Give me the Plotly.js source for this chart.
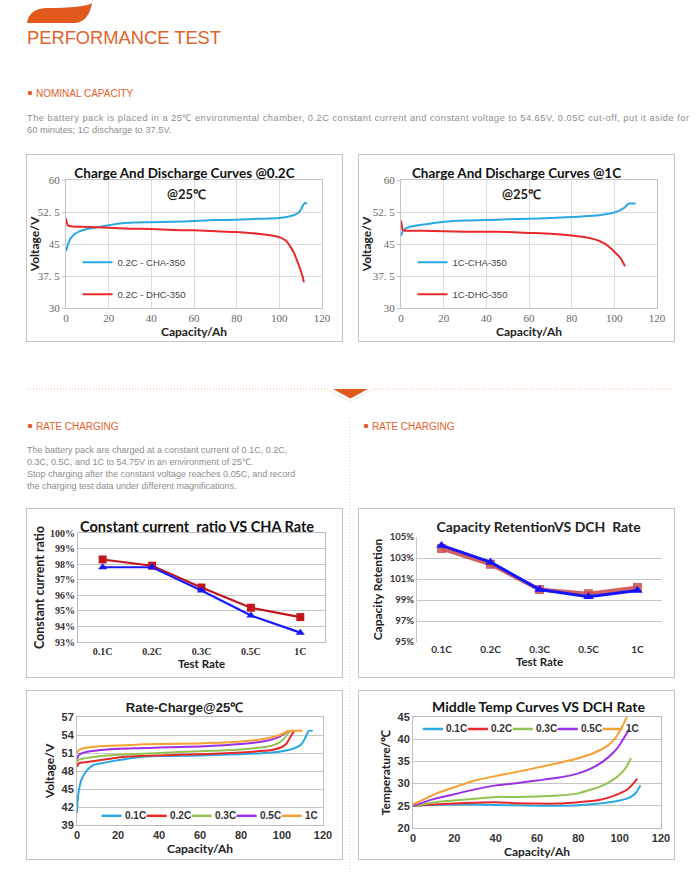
<!DOCTYPE html>
<html>
<head>
<meta charset="utf-8">
<script src="https://cdn.plot.ly/plotly-3.0.1.min.js"></script>
<style>
  html,body{margin:0;padding:0;background:#fff;}
  #page{position:relative;width:700px;height:872px;overflow:hidden;background:#fff;}
  .box{position:absolute;border:1px solid #c4c4c4;box-sizing:border-box;background:#fff;}
  .box > div{position:absolute;left:0;top:0;}
  svg text{font-family:"Liberation Sans",Arial,sans-serif;}
</style>
</head>
<body>
<div id="page">
<svg id="deco" width="700" height="872" style="position:absolute;left:0;top:0;">
  <path d="M27,23 L76,23 Q89,21 92,3 Q84,8 46,8 Q29,9 27,23 Z" fill="#e2591d"/>
  <text x="27" y="43.5" font-size="18" fill="#e0622b" textLength="194" lengthAdjust="spacingAndGlyphs">PERFORMANCE TEST</text>
  <circle cx="30" cy="93" r="2.3" fill="#e0622b"/>
  <text x="36" y="96.5" font-size="10" fill="#e0622b">NOMINAL CAPACITY</text>
  <text x="27" y="120.5" font-size="9.3" fill="#8e8e8e" textLength="662" lengthAdjust="spacing">The battery pack is placed in a 25℃ environmental chamber, 0.2C constant current and constant voltage to 54.65V, 0.05C cut-off, put it aside for</text>
  <text x="27" y="132.5" font-size="9.3" fill="#8e8e8e">60 minutes; 1C discharge to 37.5V.</text>
  <polyline points="27,389 327,389 350,402 373,389 672,389" fill="none" stroke="#efb38e" stroke-width="1" stroke-dasharray="1,2"/>
  <polygon points="333,389 368,389 350.5,398.5" fill="#e2591d"/>
  <line x1="350" y1="418" x2="350" y2="872" stroke="#cfcfcf" stroke-width="1" stroke-dasharray="1,2"/>
  <circle cx="30" cy="426" r="2.3" fill="#e0622b"/>
  <text x="36" y="429.5" font-size="10" fill="#e0622b">RATE CHARGING</text>
  <circle cx="366" cy="426" r="2.3" fill="#e0622b"/>
  <text x="372" y="429.5" font-size="10" fill="#e0622b">RATE CHARGING</text>
  <text x="27" y="453" font-size="9" fill="#8e8e8e">The battery pack are charged at a constant current of 0.1C, 0.2C,</text>
  <text x="27" y="465" font-size="9" fill="#8e8e8e">0.3C, 0.5C, and 1C to 54.75V in an environment of 25℃.</text>
  <text x="27" y="477" font-size="9" fill="#8e8e8e">Stop charging after the constant voltage reaches 0.05C, and record</text>
  <text x="27" y="489" font-size="9" fill="#8e8e8e">the charging test data under different magnifications.</text>
</svg>
<div class="box" style="left:26px;top:154px;width:317px;height:188px;"><div id="c1"></div></div>
<div class="box" style="left:358px;top:154px;width:317px;height:188px;"><div id="c2"></div></div>
<div class="box" style="left:26px;top:508px;width:317px;height:170px;"><div id="c3"></div></div>
<div class="box" style="left:358px;top:508px;width:317px;height:170px;"><div id="c4"></div></div>
<div class="box" style="left:26px;top:690px;width:317px;height:170px;"><div id="c5"></div></div>
<div class="box" style="left:358px;top:690px;width:317px;height:170px;"><div id="c6"></div></div>
</div>
<script>
// ---------- DATA ----------
// Chart 1: Charge and discharge @0.2C
const c1ChaX = [0,1,2,4,6,8,12,16,20,25,30,40,50,60,70,80,90,100,104,107,109,110,111,112,113];
const c1ChaY = [43.3,45,46.2,47.3,47.9,48.3,48.7,49.0,49.4,49.8,50.0,50.1,50.2,50.4,50.6,50.7,50.9,51.1,51.4,51.8,52.3,53.0,54.0,54.6,54.5];
const c1DhcX = [0,0.5,1,3,10,20,30,40,50,60,70,80,90,95,100,103,105,107,108,109,110,111,111.5];
const c1DhcY = [51.0,49.8,49.3,49.1,49.0,48.8,48.6,48.5,48.3,48.2,48.0,47.8,47.4,47.1,46.6,45.8,44.5,42.8,41.5,40.2,38.8,37.2,36.0];
// Chart 2: Charge and discharge @1C
const c2ChaX = [0,0.5,1,2,4,8,14,20,30,40,50,60,70,80,90,95,100,103,105,106,107,108,110];
const c2ChaY = [46.9,47.6,48.1,48.6,49.0,49.4,49.8,50.2,50.5,50.6,50.8,50.9,51.1,51.3,51.6,51.9,52.4,53.0,53.6,54.2,54.5,54.5,54.5];
const c2DhcX = [0,0.3,0.8,2,5,10,20,30,40,50,60,70,80,85,90,93,96,98,100,102,103,104,105];
const c2DhcY = [50.5,49.5,48.3,48.1,48.1,48.1,48.0,47.9,47.9,47.8,47.6,47.4,47.0,46.7,46.2,45.7,44.9,44.1,43.2,42.2,41.6,40.7,39.8];
// Chart 3 & 4: rates
const rates = ['0.1C','0.2C','0.3C','0.5C','1C'];
const ccRatioRed  = [0.983,0.979,0.965,0.952,0.946];
const ccRatioBlue = [0.978,0.978,0.963,0.947,0.936];
const capRetRed   = [1.039,1.024,1.000,0.996,1.002];
const capRetBlue  = [1.042,1.026,1.000,0.993,0.999];
// Chart 5: Rate-Charge@25C
const rcNames = ['0.1C','0.2C','0.3C','0.5C','1C'];
const rc01X = [0,0.3,0.8,1.5,2.5,4,6,8,12,20,30,40,60,80,95,100,103,106,108,110,111,112,113,115];
const rc01Y = [41.0,43.0,44.5,45.8,46.8,47.7,48.5,49.0,49.3,49.8,50.3,50.5,50.6,50.8,51.1,51.3,51.5,51.8,52.1,52.7,53.3,54.0,54.7,54.7];
const rc02X = [0,0.5,1,5,15,25,40,60,80,95,100,102,103,104,105,106];
const rc02Y = [48.7,49.1,49.3,49.5,50.0,50.4,50.6,50.8,51.1,51.5,52.0,52.5,53.0,53.6,54.2,54.6];
const rc03X = [0,0.5,2,10,20,40,60,80,95,99,101,102.5,104];
const rc03Y = [49.5,49.8,50.0,50.4,50.7,51.0,51.3,51.6,52.2,52.8,53.4,54.1,54.7];
const rc05X = [0,0.5,1,5,15,30,40,60,80,92,98,101,103];
const rc05Y = [50.0,50.4,50.7,51.2,51.6,51.8,51.9,52.1,52.5,53.0,53.6,54.2,54.7];
const rc1X  = [0,0.5,1,5,15,30,40,60,80,92,99,102,104,110];
const rc1Y  = [51.0,51.3,51.5,51.9,52.2,52.4,52.5,52.6,52.9,53.4,54.0,54.5,54.7,54.7];
// Chart 6: Middle temp curves vs DCH rate
const mt01X = [0,10,20,30,40,50,60,70,80,90,100,105,108,110];
const mt01Y = [25.0,25.2,25.3,25.3,25.2,25.1,25.0,25.0,25.1,25.5,26.2,26.9,28.0,29.6];
const mt02X = [0,10,20,30,40,50,60,70,80,90,95,100,104,107,108.5];
const mt02Y = [25.0,25.3,25.5,25.7,25.8,25.6,25.5,25.5,25.8,26.3,26.9,27.8,28.8,30.2,31.1];
const mt03X = [0,8,15,30,40,50,60,70,80,85,90,96,100,103,105.5];
const mt03Y = [25.0,25.6,26.0,26.6,27.0,27.0,27.1,27.3,27.8,28.5,29.2,30.6,32.0,33.6,35.7];
const mt05X = [0,10,20,30,40,50,60,70,80,87,92,97,100,103,104.5];
const mt05Y = [25.0,26.5,27.6,28.7,29.6,30.1,30.7,31.3,32.3,33.6,35.0,37.0,38.7,41.0,42.2];
const mt1X  = [0,5,12,22,30,40,50,60,70,80,88,94,98,100,102,103.5];
const mt1Y  = [25.3,26.4,27.9,29.5,30.7,31.7,32.6,33.6,34.6,35.7,37.0,38.5,40.3,41.8,43.6,45.0];

// ---------- STYLE HELPERS ----------
const BLUE='#2aa8e0', RED='#e8282b', GREEN='#92c350', PURPLE='#9b30e6', ORANGE='#f6a033';
const rcColors = [BLUE, RED, GREEN, PURPLE, ORANGE];
const cfg = {staticPlot:true, displayModeBar:false};
const boldSans = '"Lato","Liberation Sans",Arial,sans-serif';

function line(x,y,name,color,w,extra){
  return Object.assign({type:'scatter',mode:'lines',x:x,y:y,name:name,line:{color:color,width:w||2,shape:'spline',smoothing:0.6},hoverinfo:'skip'},extra||{});
}

// compact horizontal legend (shapes + annotations) in plot-paper coords
function compactLegend(names, colors, x0, y, pitch, sw, gap){
  const shapes=[], ann=[];
  names.forEach((n,i)=>{
    const xs = x0 + i*pitch;
    shapes.push({type:'line', xref:'paper', yref:'paper', x0:xs, x1:xs+sw, y0:y, y1:y, line:{color:colors[i], width:2.5}});
    ann.push({text:n, xref:'paper', yref:'paper', x:xs+sw+gap, y:y, xanchor:'left', yanchor:'middle', showarrow:false,
      font:{family:'"Liberation Sans",Arial,sans-serif', size:10, color:'#333', weight:700}});
  });
  return {shapes, ann};
}

// ---------- CHART 1 & 2 ----------
function cdLayout(title, W, H, m){
  return {
    width:W, height:H, margin:m, paper_bgcolor:'#fff', plot_bgcolor:'#fff',
    title:{text:title, font:{family:boldSans, size:13.5, color:'#111', weight:700}, x:0.5, xanchor:'center', y:1-18/H, yanchor:'middle', xref:'container', yref:'container'},
    showlegend:true,
    legend:{x:0.045, y:0.47, xanchor:'left', yanchor:'top', bgcolor:'rgba(0,0,0,0)', font:{family:'"Liberation Sans",Arial,sans-serif', size:9.5, color:'#444'}, traceorder:'grouped', tracegroupgap:13, itemwidth:30},
    xaxis:{range:[0,120], dtick:20, tick0:0, showgrid:true, gridcolor:'#dcdcdc', zeroline:false, showline:true, linecolor:'#c4c4c4', mirror:true, ticks:'', tickfont:{family:'"Liberation Serif","DejaVu Serif",serif', size:11, color:'#666'},
      title:{text:'Capacity/Ah', font:{family:boldSans, size:12, color:'#222', weight:700}, standoff:2}},
    yaxis:{range:[30,60], tickvals:[30,37.5,45,52.5,60], ticktext:['30','37. 5','45','52. 5','60'], showgrid:true, gridcolor:'#dcdcdc', zeroline:false, showline:true, linecolor:'#c4c4c4', mirror:true, ticks:'outside', ticklen:3, tickcolor:'#c4c4c4', tickfont:{family:'"Liberation Serif","DejaVu Serif",serif', size:11, color:'#666'},
      title:{text:'Voltage/V', font:{family:boldSans, size:12, color:'#222', weight:700}, standoff:1}},
    annotations:[{text:'<b>@25℃</b>', xref:'paper', yref:'paper', x:0.47, y:0.89, xanchor:'center', yanchor:'middle', showarrow:false, font:{family:boldSans, size:13, color:'#222'}}]
  };
}
Plotly.newPlot('c1', [
  line(c1ChaX,c1ChaY,'0.2C - CHA-350',BLUE,2,{legendgroup:'a'}),
  line(c1DhcX,c1DhcY,'0.2C - DHC-350',RED,2,{legendgroup:'b'})
], cdLayout('Charge And Discharge Curves @0.2C',315,186,{l:39,r:20,t:25,b:33}), cfg);

Plotly.newPlot('c2', [
  line(c2ChaX,c2ChaY,'1C-CHA-350',BLUE,2,{legendgroup:'a'}),
  line(c2DhcX,c2DhcY,'1C-DHC-350',RED,2,{legendgroup:'b'})
], cdLayout('Charge And Discharge Curves @1C',315,186,{l:42,r:17,t:25,b:33}), cfg);

// ---------- CHART 3 ----------
Plotly.newPlot('c3', [
  {type:'scatter',mode:'lines+markers',x:rates,y:ccRatioRed,name:'red',line:{color:'#c0161c',width:2.2},marker:{symbol:'square',size:8,color:'#c0161c'},hoverinfo:'skip'},
  {type:'scatter',mode:'lines+markers',x:rates,y:ccRatioBlue,name:'blue',line:{color:'#1818ff',width:2.2},marker:{symbol:'triangle-up',size:8,color:'#1818ff'},hoverinfo:'skip'}
], {
  width:315, height:168, margin:{l:51,r:17,t:24,b:35}, showlegend:false, paper_bgcolor:'#fff', plot_bgcolor:'#fff',
  title:{text:'Constant current  ratio VS CHA Rate', font:{family:boldSans, size:14.5, color:'#111', weight:700}, x:0.54, xanchor:'center', y:1-18/168, yanchor:'middle', xref:'container', yref:'container'},
  xaxis:{type:'category', range:[-0.5,4.5], showgrid:false, showline:true, linecolor:'#bdbdbd', mirror:true, ticks:'', tickfont:{family:'"Liberation Serif",serif', size:10, color:'#333', weight:700},
    title:{text:'Test Rate', font:{family:boldSans, size:11.5, color:'#222', weight:700}, standoff:0}},
  yaxis:{range:[0.93,1.0], dtick:0.01, tickformat:'.0%', showgrid:true, gridcolor:'#c6c6c6', gridwidth:1, zeroline:false, showline:true, linecolor:'#bdbdbd', mirror:true, ticks:'', tickfont:{family:'"Liberation Serif",serif', size:10, color:'#333', weight:700},
    title:{text:'Constant current ratio', font:{family:boldSans, size:12.5, color:'#222', weight:700}, standoff:2}}
}, cfg);

// ---------- CHART 4 ----------
Plotly.newPlot('c4', [
  {type:'scatter',mode:'lines+markers',x:rates,y:capRetRed,name:'red',line:{color:'rgba(200,70,70,0.85)',width:4},marker:{symbol:'square',size:9,color:'rgba(200,80,80,0.85)'},hoverinfo:'skip'},
  {type:'scatter',mode:'lines+markers',x:rates,y:capRetBlue,name:'blue',line:{color:'#1414ff',width:3},marker:{symbol:'triangle-up',size:9,color:'#1414ff'},hoverinfo:'skip'}
], {
  width:315, height:168, margin:{l:58,r:12,t:28,b:35}, showlegend:false, paper_bgcolor:'#fff', plot_bgcolor:'#fff',
  title:{text:'Capacity RetentionVS DCH  Rate', font:{family:boldSans, size:14, color:'#222', weight:700}, x:0.57, xanchor:'center', y:1-18/168, yanchor:'middle', xref:'container', yref:'container'},
  xaxis:{type:'category', range:[-0.5,4.5], showgrid:false, showline:false, ticks:'', tickfont:{family:boldSans, size:10, color:'#333', weight:700},
    title:{text:'Test Rate', font:{family:boldSans, size:11.5, color:'#222', weight:700}, standoff:0}},
  yaxis:{range:[0.95,1.05], tickvals:[0.95,0.97,0.99,1.01,1.03,1.05], tickformat:'.0%', showgrid:true, gridcolor:'#c6c6c6', zeroline:false, showline:true, linecolor:'#c6c6c6', ticks:'', tickfont:{family:boldSans, size:9.5, color:'#333', weight:700},
    title:{text:'Capacity Retention', font:{family:boldSans, size:12, color:'#222', weight:700}, standoff:4}}
}, cfg);

// ---------- CHART 5 ----------
const leg5 = compactLegend(rcNames, rcColors, 0.10, 0.085, 0.183, 0.081, 0.006);
Plotly.newPlot('c5', [
  line(rc01X,rc01Y,rcNames[0],BLUE,2),
  line(rc02X,rc02Y,rcNames[1],RED,2),
  line(rc03X,rc03Y,rcNames[2],GREEN,2),
  line(rc05X,rc05Y,rcNames[3],PURPLE,2),
  line(rc1X,rc1Y,rcNames[4],ORANGE,2)
], {
  width:315, height:168, margin:{l:50,r:19,t:26,b:34}, paper_bgcolor:'#fff', plot_bgcolor:'#fff',
  title:{text:'Rate-Charge@25℃', font:{family:'"Liberation Sans",Arial,sans-serif', size:13, color:'#222', weight:700}, x:0.5, xanchor:'center', y:1-16/168, yanchor:'middle', xref:'container', yref:'container'},
  showlegend:false, shapes:leg5.shapes, annotations:leg5.ann,
  xaxis:{range:[0,120], dtick:20, showgrid:false, zeroline:false, showline:true, linecolor:'#bdbdbd', mirror:true, ticks:'', tickfont:{family:'"Liberation Sans",Arial,sans-serif', size:11, color:'#333', weight:700},
    title:{text:'Capacity/Ah', font:{family:boldSans, size:12, color:'#222', weight:700}, standoff:2}},
  yaxis:{range:[39,57], dtick:3, tick0:39, showgrid:true, gridcolor:'#c6c6c6', zeroline:false, showline:true, linecolor:'#bdbdbd', mirror:true, ticks:'', tickfont:{family:'"Liberation Sans",Arial,sans-serif', size:11, color:'#333', weight:700},
    title:{text:'Voltage/V', font:{family:boldSans, size:12, color:'#222', weight:700}, standoff:4}}
}, cfg);

// ---------- CHART 6 ----------
const leg6 = compactLegend(rcNames, rcColors, 0.04, 0.892, 0.181, 0.081, 0.006);
Plotly.newPlot('c6', [
  line(mt01X,mt01Y,rcNames[0],BLUE,2),
  line(mt02X,mt02Y,rcNames[1],RED,2),
  line(mt03X,mt03Y,rcNames[2],GREEN,2),
  line(mt05X,mt05Y,rcNames[3],PURPLE,2),
  line(mt1X,mt1Y,rcNames[4],ORANGE,2)
], {
  width:315, height:168, margin:{l:54,r:13,t:26,b:31}, paper_bgcolor:'#fff', plot_bgcolor:'#fff',
  title:{text:'Middle Temp Curves VS DCH Rate', font:{family:boldSans, size:14, color:'#111', weight:700}, x:0.57, xanchor:'center', y:1-16/168, yanchor:'middle', xref:'container', yref:'container'},
  showlegend:false, shapes:leg6.shapes, annotations:leg6.ann,
  xaxis:{range:[0,120], dtick:20, showgrid:false, zeroline:false, showline:true, linecolor:'#bdbdbd', mirror:true, ticks:'', tickfont:{family:'"Liberation Sans",Arial,sans-serif', size:11, color:'#333', weight:700},
    title:{text:'Capacity/Ah', font:{family:boldSans, size:12, color:'#222', weight:700}, standoff:2}},
  yaxis:{range:[20,45], dtick:5, showgrid:true, gridcolor:'#c6c6c6', zeroline:false, showline:true, linecolor:'#bdbdbd', mirror:true, ticks:'', tickfont:{family:'"Liberation Sans",Arial,sans-serif', size:11, color:'#333', weight:700},
    title:{text:'Temperature/℃', font:{family:boldSans, size:12, color:'#222', weight:700}, standoff:4}}
}, cfg);
</script>
</body>
</html>
